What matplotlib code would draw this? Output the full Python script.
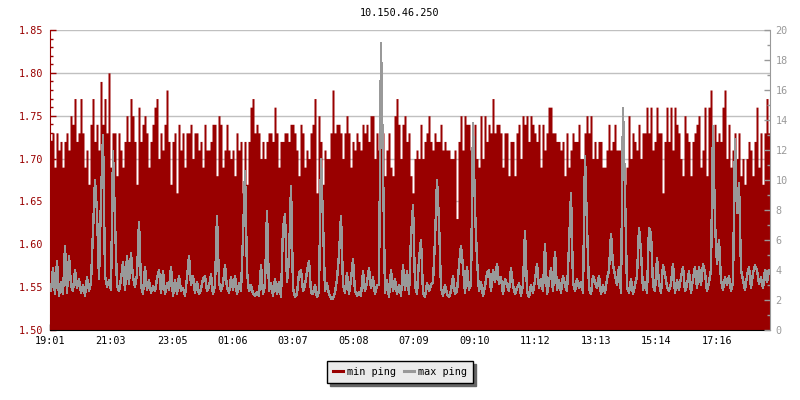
import numpy as np
import matplotlib
matplotlib.use("Agg")
import matplotlib.pyplot as plt
from matplotlib.lines import Line2D

title = "10.150.46.250"
start_time = "19:01"
step_min = 4
tick_labels = ["19:01", "21:03", "23:05", "01:06", "03:07", "05:08",
               "07:09", "09:10", "11:12", "13:13", "15:14", "17:16"]
series_names = ["min ping", "max ping"]

# min ping in 1/100 ms above 1.50 ms, one value per 4 minutes
min_ping = [
    22, 23, 19, 23, 21, 22, 19, 22, 23, 21, 25, 24, 27, 22, 23, 27, 23, 19, 21, 17,
    24, 27, 22, 24, 21, 29, 24, 27, 23, 30, 19, 23, 23, 18, 23, 21, 19, 22, 25, 22,
    27, 25, 22, 17, 26, 22, 24, 25, 23, 19, 22, 24,
    26, 27, 20, 23, 21, 24, 28, 22, 17, 22, 23, 16, 24, 21, 23, 19, 23, 23, 24, 20,
    23, 23, 21, 22, 19, 24, 21, 21, 22, 24, 24, 18, 25, 24, 19, 21, 24, 21, 20, 21,
    18, 23, 21, 22, 16, 22, 17, 22, 26, 27, 23,
    24, 23, 20, 22, 20, 22, 23, 23, 22, 26, 23, 19, 22, 22, 23, 23, 22, 24, 24, 23,
    21, 18, 24, 23, 19, 21, 20, 23, 24, 27, 16, 25, 22, 17, 21, 20, 20, 23, 28, 23,
    24, 24, 23, 20, 23, 25, 23, 19, 22, 21, 23, 22,
    21, 24, 23, 24, 22, 25, 25, 20, 23, 21, 23, 23, 18, 21, 23, 19, 18, 25, 27, 24,
    20, 24, 25, 22, 23, 18, 16, 20, 21, 20, 24, 20, 22, 23, 25, 22, 21, 23, 22, 22,
    24, 21, 22, 21, 21, 20, 20, 21, 13, 22, 25,
    21, 25, 24, 24, 21, 20, 24, 20, 19, 25, 20, 25, 22, 24, 23, 27, 23, 24, 24, 23,
    19, 23, 23, 18, 22, 22, 18, 23, 24, 20, 25, 24, 25, 22, 25, 24, 23, 22, 24, 19,
    24, 21, 23, 26, 26, 23, 23, 22, 22, 21, 22, 18,
    23, 19, 21, 23, 22, 22, 24, 20, 20, 23, 25, 23, 25, 20, 22, 20, 22, 22, 19, 19,
    21, 24, 21, 22, 24, 21, 21, 21, 18, 17, 19, 25, 20, 23, 22, 21, 24, 20, 23, 23,
    26, 23, 26, 21, 22, 26, 23, 23, 16, 22, 26,
    22, 26, 21, 26, 24, 23, 20, 18, 25, 23, 22, 18, 22, 23, 24, 25, 19, 21, 26, 18,
    26, 28, 22, 24, 22, 23, 22, 26, 28, 20, 24, 19, 21, 23, 20, 23, 18, 20, 17, 20,
    22, 21, 18, 22, 26, 19, 23, 17, 23, 27, 23,
]

# max ping in ms, same sampling
max_ping = [
    2.6, 4.1, 2.4, 4.6, 2.3, 3.2, 2.4, 5.6, 2.5, 4.9, 3.0, 2.6, 4.0, 2.8, 3.4, 2.5, 3.0, 2.3, 3.5, 2.6,
    3.2, 6.6, 10.0, 7.8, 3.4, 8.8, 13.0, 3.6, 2.9, 3.3, 2.7, 11.9, 7.2, 3.0, 2.6, 3.4, 4.5, 2.7, 4.9, 3.1,
    5.1, 3.5, 2.9, 3.7, 7.2, 3.0, 2.4, 4.2, 2.7, 3.3, 2.5, 2.9,
    2.6, 3.4, 4.0, 2.5, 3.9, 2.4, 3.1, 2.7, 4.2, 2.3, 3.3, 2.4, 3.6, 2.6, 2.8, 2.3, 3.5, 4.9, 3.0, 3.6,
    2.5, 3.2, 2.4, 2.7, 3.4, 3.6, 2.6, 2.9, 3.7, 2.4, 3.0, 7.6, 3.2, 2.6, 3.1, 4.3, 2.8, 2.5, 3.5, 2.7,
    3.6, 2.4, 3.1, 2.6, 6.2, 10.6, 3.9, 2.6, 3.0, 2.4, 2.3,
    2.5, 2.3, 4.3, 2.4, 3.0, 7.9, 2.6, 3.1, 2.3, 3.4, 2.4, 3.2, 2.2, 6.8, 7.7, 3.2, 4.7, 9.6, 2.8, 2.2,
    2.4, 3.8, 4.0, 2.6, 3.0, 3.9, 4.6, 2.5, 2.4, 3.0, 2.2, 2.6, 11.4, 7.2, 2.6, 3.1, 2.4, 2.1, 2.1, 2.5,
    3.4, 5.0, 7.6, 3.0, 2.5, 3.8, 2.4, 3.4, 4.7, 2.6, 2.3, 2.5,
    2.3, 3.9, 2.6, 3.2, 4.1, 2.8, 3.5, 2.4, 3.0, 3.0, 19.1, 10.6, 2.5, 3.3, 2.2, 4.0, 2.6, 3.4, 2.4, 3.0,
    2.3, 4.3, 2.7, 3.9, 2.4, 6.2, 8.3, 3.0, 2.4, 4.7, 6.0, 2.5, 2.2, 3.1, 2.6, 3.0, 3.2, 6.0, 10.0, 7.2,
    2.8, 2.3, 3.0, 2.4, 2.2, 2.6, 3.6, 2.4, 2.6, 4.3, 5.6,
    4.2, 2.5, 4.2, 2.7, 3.0, 13.8, 8.0, 4.7, 2.6, 3.2, 2.3, 2.9, 3.8, 4.0, 2.6, 4.0, 3.2, 4.4, 3.1, 3.5,
    2.4, 3.4, 3.0, 2.6, 4.1, 3.0, 2.4, 2.8, 3.1, 2.3, 3.0, 6.6, 2.6, 2.2, 3.0, 2.5, 3.3, 4.4, 2.8, 3.4,
    2.6, 5.7, 2.4, 3.2, 4.1, 2.6, 5.2, 2.7, 3.3, 2.5, 3.6, 3.0,
    2.6, 5.6, 9.1, 3.2, 2.6, 3.4, 2.8, 3.2, 2.5, 11.6, 6.9, 2.8, 2.4, 3.6, 3.2, 2.8, 3.6, 2.4, 3.0, 2.5,
    3.4, 4.0, 6.4, 4.3, 3.7, 3.0, 4.2, 2.5, 14.8, 9.1, 2.8, 2.5, 3.4, 2.4, 3.0, 3.6, 6.8, 5.2, 2.7, 3.2,
    2.5, 6.8, 6.4, 3.0, 2.6, 4.8, 3.1, 2.5, 4.3, 3.7, 2.9,
    2.6, 3.1, 4.4, 2.5, 3.3, 2.7, 3.5, 4.2, 2.6, 3.0, 3.9, 2.5, 3.4, 4.2, 2.8, 4.2, 3.0, 4.4, 3.8, 2.6,
    3.2, 4.0, 13.6, 7.1, 4.4, 6.0, 3.3, 2.7, 3.5, 3.0, 3.6, 2.6, 3.2, 12.7, 7.8, 9.8, 4.0, 3.3, 2.7, 3.6,
    4.2, 2.8, 3.8, 4.3, 4.0, 3.1, 3.5, 2.8, 4.0, 3.2, 4.0,
]

red = "#990000"
gray = "#999999"


def minutes_since_start(label):
    h, m = map(int, label.split(":"))
    h0, m0 = map(int, start_time.split(":"))
    return ((h * 60 + m) - (h0 * 60 + m0)) % 1440


plt.rcParams["font.family"] = ["DejaVu Sans Mono"]
plt.rcParams["font.size"] = 7.3

fig = plt.figure(figsize=(8, 4), dpi=100)
ax = fig.add_axes([50 / 800, 70 / 400, 720 / 800, 300 / 400])
ax2 = ax.twinx()

# min ping as a stepped area, max ping as a plain line on the right scale
t = np.arange(len(min_ping) + 1) * step_min
lo = 1.5 + np.array(min_ping + min_ping[-1:]) / 100
ax.fill_between(t, lo, 1.5, step="post", color=red, lw=0, antialiased=False)

tm = (np.arange(len(max_ping)) + 0.5) * step_min
ax2.plot(tm, max_ping, color=gray, lw=1, antialiased=False)

ax.set_xlim(0, len(min_ping) * step_min)
ax.set_ylim(1.5, 1.85)
ax2.set_ylim(0, 20)

ax.set_xticks([minutes_since_start(s) for s in tick_labels])
ax.set_xticklabels(tick_labels)
ax.set_yticks(np.arange(1.50, 1.851, 0.05))
ax.set_yticks(np.arange(1.50, 1.851, 0.01), minor=True)
ax.yaxis.set_major_formatter(plt.FormatStrFormatter("%.2f"))
ax2.set_yticks(np.arange(0, 21, 2))
ax2.set_yticks(np.arange(0, 21, 1), minor=True)

ax.tick_params(axis="y", which="both", direction="in", colors=red, width=1, pad=5)
ax.tick_params(axis="y", which="major", length=4)
ax.tick_params(axis="y", which="minor", length=2.2)
ax.tick_params(axis="x", direction="in", colors="black", length=4, width=1, pad=4)
ax2.tick_params(axis="y", which="both", direction="in", colors=gray, width=1, pad=4)
ax2.tick_params(axis="y", which="major", length=4)
ax2.tick_params(axis="y", which="minor", length=2.2)

ax.yaxis.grid(True, color="#c0c0c0", lw=1)
ax.set_axisbelow(True)

for s in ["top", "right"]:
    ax.spines[s].set_visible(False)
for s in ["top", "left", "bottom"]:
    ax2.spines[s].set_visible(False)
ax.spines["left"].set_color(red)
ax.spines["bottom"].set_color("black")
ax2.spines["right"].set_color(gray)

fig.text(0.5, 1 - 13 / 400, title, ha="center", va="center", fontsize=7.3)

handles = [Line2D([], [], color=red, lw=2.2), Line2D([], [], color=gray, lw=2.2)]
fig.legend(handles, series_names, loc="center", bbox_to_anchor=(0.5, 28 / 400),
           ncol=2, frameon=True, fancybox=False, edgecolor="black",
           facecolor="#ebebeb", framealpha=1,
           shadow={"color": "#666666", "alpha": 1},
           handlelength=1.0, handletextpad=0.4, columnspacing=0.7,
           borderpad=0.6, borderaxespad=0.3, fontsize=7.3)

fig.savefig("out.png", dpi=100)
